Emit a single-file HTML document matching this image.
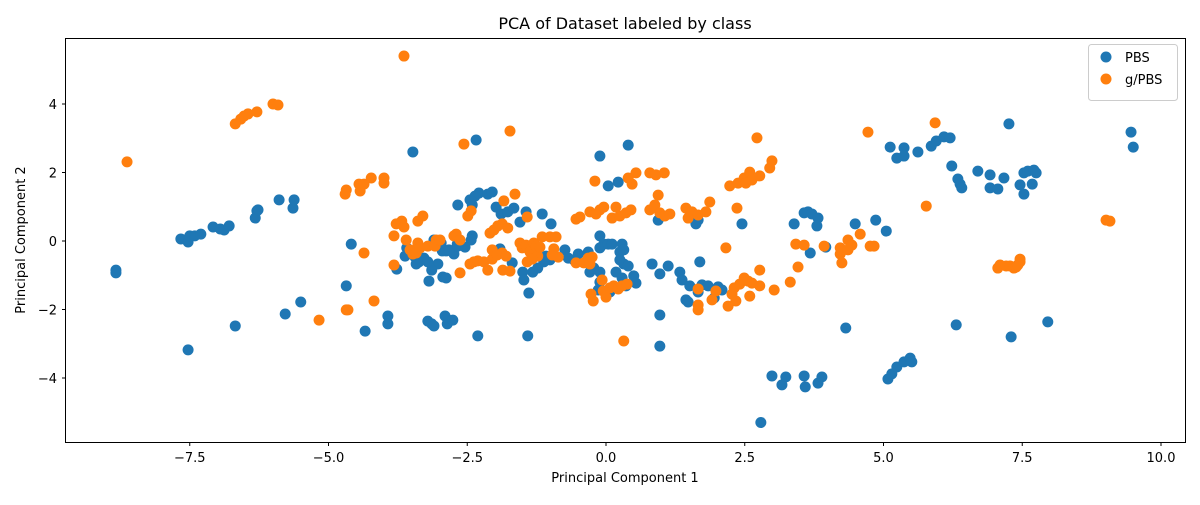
<!DOCTYPE html>
<html><head><meta charset="utf-8"><style>
body{margin:0;background:#fff;font-family:"Liberation Sans","DejaVu Sans",sans-serif;}
svg text{font-family:"DejaVu Sans","Liberation Sans",sans-serif;fill:#000;}
</style></head><body>
<svg id="chart" width="1200" height="500" viewBox="0 0 1200 500" xmlns="http://www.w3.org/2000/svg">
<rect width="1200" height="500" fill="#fff"/>
<text x="625" y="29" font-size="16" text-anchor="middle">PCA of Dataset labeled by class</text>
<g id="marks"></g>
<rect x="65.5" y="38.5" width="1120" height="404" fill="none" stroke="#000" stroke-width="1"/>
<g id="axes"></g>
<text x="625" y="482" font-size="13" text-anchor="middle">Principal Component 1</text>
<text x="25" y="240" font-size="13" text-anchor="middle" transform="rotate(-90 25 240)">Principal Component 2</text>
<g>
<rect x="1088.5" y="44.5" width="89" height="56" rx="3" fill="#fff" fill-opacity="0.8" stroke="#ccc"/>
<circle cx="1106" cy="57" r="5.5" fill="#1f77b4"/>
<text x="1125" y="62" font-size="13">PBS</text>
<circle cx="1106" cy="79" r="5.5" fill="#ff7f0e"/>
<text x="1125" y="84" font-size="13">g/PBS</text>
</g>
</svg>
<script>
const xTicks=[-7.5,-5.0,-2.5,0.0,2.5,5.0,7.5,10.0];
const yTicks=[-4,-2,0,2,4];
const pbsX=[-8.83,-8.83,-7.66,-7.53,-7.50,-7.41,-7.30,-7.08,-6.95,-6.88,-6.79,-6.29,-6.32,-6.27,-6.68,-7.53,-5.89,-5.64,-5.62,-5.50,-5.78,-4.59,-4.68,-4.34,-3.93,-3.77,-3.93,-3.48,-2.34,-2.67,-2.41,-2.45,-2.36,-2.29,-2.13,-2.05,-1.98,-1.89,-1.77,-1.66,-1.55,-1.44,-2.41,-2.43,-2.54,-2.68,-2.95,-2.88,-3.03,-3.14,-3.19,-2.94,-3.21,-3.14,-3.10,-2.90,-2.86,-2.76,-2.88,-3.44,-3.37,-3.28,-3.44,-3.59,-3.62,-3.42,-3.21,-3.10,-2.97,-2.74,-2.83,-2.67,-2.31,-1.91,-1.69,-1.50,-1.39,-1.48,-1.41,-1.15,-0.99,-1.08,-1.01,-1.12,-1.23,-1.32,-0.74,-0.68,-0.58,-0.50,-0.32,-0.11,-0.04,-0.11,0.04,0.11,-0.11,0.04,0.29,0.25,0.32,0.25,0.18,-0.11,-0.14,-0.29,-0.22,0.07,0.29,0.40,0.50,0.54,0.36,-0.11,0.22,0.40,0.32,0.83,0.97,1.12,0.94,1.66,0.97,0.97,1.33,1.37,1.44,1.48,1.51,1.62,1.69,1.66,1.73,1.84,1.95,2.02,2.09,2.45,2.79,2.99,3.17,3.24,3.57,3.59,3.82,3.89,3.39,3.57,3.64,3.71,3.82,3.80,3.68,3.96,4.32,4.49,4.86,5.05,5.12,5.24,5.37,5.37,5.08,5.15,5.24,5.37,5.48,5.51,5.62,5.86,5.95,6.09,6.20,6.23,6.34,6.38,6.41,6.31,6.70,6.92,6.92,7.06,7.17,7.26,7.30,7.46,7.53,7.53,7.60,7.68,7.71,7.75,7.96,9.46,9.50];
const pbsY=[-0.85,-0.93,0.06,-0.03,0.15,0.15,0.20,0.41,0.35,0.32,0.44,0.88,0.67,0.91,-2.48,-3.18,1.20,0.96,1.20,-1.78,-2.13,-0.09,-1.31,-2.63,-2.19,-0.82,-2.42,2.60,2.95,1.05,1.05,1.20,1.31,1.40,1.37,1.43,0.99,0.79,0.85,0.96,0.55,0.85,0.15,0.03,-0.18,-0.09,-0.29,-0.29,-0.67,-0.85,-1.17,-1.05,-2.34,-2.42,-2.48,-2.19,-2.42,-2.31,-1.08,-0.47,-0.61,-0.50,-0.38,-0.20,-0.44,-0.67,-0.61,0.03,-0.06,-0.38,-0.26,-0.15,-2.77,-0.23,-0.64,-0.91,-1.52,-1.14,-2.77,0.79,0.50,-0.44,-0.55,-0.61,-0.79,-0.91,-0.26,-0.50,-0.55,-0.38,-0.32,0.15,-0.09,-0.20,-0.09,-0.09,2.48,1.61,-0.09,-0.32,-0.67,-0.55,-0.91,-1.20,-1.43,-0.91,-0.79,-1.49,-1.08,-0.73,-1.02,-1.23,-1.31,-0.91,1.72,2.80,-0.26,-0.67,-0.96,-0.73,0.61,0.61,-2.16,-3.07,-0.91,-1.14,-1.72,-1.78,-1.31,0.50,-0.61,-1.49,-1.28,-1.31,-1.66,-1.34,-1.43,0.50,-5.30,-3.94,-4.20,-3.97,-3.94,-4.26,-4.15,-3.97,0.50,0.82,0.85,0.79,0.67,0.44,-0.35,-0.18,-2.54,0.50,0.61,0.29,2.74,2.42,2.72,2.48,-4.03,-3.88,-3.68,-3.53,-3.42,-3.53,2.60,2.77,2.92,3.04,3.01,2.19,1.81,1.66,1.55,-2.45,2.04,1.93,1.55,1.52,1.84,3.42,-2.80,1.64,1.37,1.99,2.04,1.66,2.07,1.99,-2.36,3.18,2.74];
const gpbsX=[-8.63,-6.68,-6.58,-6.52,-6.45,-6.29,-6.00,-5.91,-3.64,-5.17,-4.68,-4.65,-4.18,-4.36,-4.68,-4.70,-4.45,-4.43,-4.36,-4.23,-4.00,-4.00,-3.82,-3.78,-3.68,-3.64,-3.60,-3.82,-3.53,-3.48,-3.42,-3.39,-3.35,-3.39,-3.30,-3.21,-3.08,-3.06,-2.99,-2.74,-2.70,-2.63,-2.49,-2.43,-2.63,-2.56,-2.45,-2.38,-2.31,-2.20,-2.13,-2.05,-2.05,-1.96,-1.87,-1.86,-1.73,-1.80,-1.64,-1.73,-2.09,-2.02,-1.95,-1.87,-1.77,-1.84,-1.55,-1.51,-1.44,-1.37,-1.30,-1.26,-1.23,-1.19,-1.33,-1.42,-1.42,-1.15,-1.01,-0.90,-0.94,-0.97,-0.86,-0.54,-0.47,-0.29,-0.54,-0.40,-0.32,-0.29,-0.25,-0.27,-0.23,-0.18,-0.11,-0.04,-0.20,-0.07,-0.05,0.00,0.07,0.14,0.22,0.29,0.38,0.11,0.18,0.25,0.36,0.45,0.47,0.54,0.40,0.79,0.90,1.05,0.94,0.79,0.88,0.97,1.06,1.15,1.44,1.48,1.55,1.66,1.80,1.87,0.32,1.66,1.66,1.66,1.91,1.98,2.16,2.20,2.27,2.31,2.34,2.41,2.49,2.56,2.59,2.63,2.77,2.77,2.23,2.36,2.38,2.49,2.52,2.59,2.63,2.72,2.77,2.95,2.99,3.03,3.32,3.42,3.46,3.57,3.93,4.22,4.25,4.22,4.36,4.43,4.36,4.58,4.76,4.83,4.72,5.77,5.93,7.06,7.10,7.21,7.28,7.35,7.39,7.42,7.46,7.46,9.01,9.08];
const gpbsY=[2.31,3.42,3.56,3.65,3.71,3.77,4.00,3.97,5.40,-2.31,-2.01,-2.01,-1.75,-0.35,1.49,1.37,1.66,1.46,1.66,1.84,1.84,1.69,0.15,0.50,0.58,0.41,0.03,-0.70,-0.26,-0.38,-0.35,-0.06,-0.20,0.58,0.73,-0.15,-0.15,0.03,0.03,0.15,0.20,0.03,0.73,0.88,-0.93,2.83,-0.67,-0.61,-0.58,-0.61,-0.85,-0.53,-0.26,-0.41,-0.35,-0.85,-0.88,-0.44,1.37,3.21,0.23,0.32,0.44,0.50,0.38,1.17,-0.06,-0.20,-0.12,-0.32,-0.06,-0.15,-0.44,-0.18,-0.53,-0.61,0.70,0.12,0.12,0.12,-0.23,-0.41,-0.47,0.64,0.70,0.85,-0.64,-0.64,-0.50,-0.67,-0.47,-1.55,-1.75,0.79,0.91,0.99,1.75,-1.14,-1.46,-1.64,-1.37,-1.31,-1.40,-1.31,-1.26,0.67,0.99,0.73,0.82,0.91,1.66,1.99,1.84,1.99,1.93,1.99,1.34,0.91,1.05,0.82,0.73,0.79,0.96,0.67,0.85,0.76,0.85,1.14,-2.92,-1.40,-1.87,-2.01,-1.72,-1.46,-0.20,-1.90,-1.55,-1.37,-1.75,-1.26,-1.08,-1.17,-1.61,-1.23,-1.31,-0.85,1.61,0.96,1.69,1.84,1.69,2.01,1.78,3.01,1.90,2.13,2.34,-1.43,-1.20,-0.09,-0.76,-0.12,-0.15,-0.38,-0.64,-0.20,0.03,-0.12,-0.26,0.20,-0.15,-0.15,3.18,1.02,3.45,-0.79,-0.70,-0.73,-0.73,-0.79,-0.76,-0.70,-0.61,-0.53,0.61,0.58];

const NS='http://www.w3.org/2000/svg';
function sx(v){return 606+v*55.5;}
function sy(v){return 241-v*34.25;}
const marks=document.getElementById('marks');
const axes=document.getElementById('axes');
function drawSeries(xs,ys,color,name){
  for(let i=0;i<xs.length;i++){
    const c=document.createElementNS(NS,'circle');
    c.setAttribute('cx',sx(xs[i]));c.setAttribute('cy',sy(ys[i]));
    c.setAttribute('r',5.5);c.setAttribute('fill',color);
    
    
    marks.appendChild(c);
  }
}
drawSeries(pbsX,pbsY,'#1f77b4','point-pbs');
drawSeries(gpbsX,gpbsY,'#ff7f0e','point-gpbs');
xTicks.forEach(t=>{
  const x=sx(t);
  const l=document.createElementNS(NS,'line');
  l.setAttribute('x1',x);l.setAttribute('x2',x);l.setAttribute('y1',442.5);l.setAttribute('y2',446);l.setAttribute('stroke','#000');
  
  
  axes.appendChild(l);
  const tx=document.createElementNS(NS,'text');
  tx.setAttribute('x',x);tx.setAttribute('y',462);tx.setAttribute('font-size','13');tx.setAttribute('text-anchor','middle');
  tx.textContent=t.toFixed(1).replace('-','\u2212');
  
  
  axes.appendChild(tx);
});
yTicks.forEach(t=>{
  const y=sy(t);
  const l=document.createElementNS(NS,'line');
  l.setAttribute('x1',62);l.setAttribute('x2',65.5);l.setAttribute('y1',y);l.setAttribute('y2',y);l.setAttribute('stroke','#000');
  
  
  axes.appendChild(l);
  const tx=document.createElementNS(NS,'text');
  tx.setAttribute('x',57);tx.setAttribute('y',y+5);tx.setAttribute('font-size','13');tx.setAttribute('text-anchor','end');
  tx.textContent=String(t).replace('-','\u2212');
  
  
  axes.appendChild(tx);
});
</script>
</body></html>
